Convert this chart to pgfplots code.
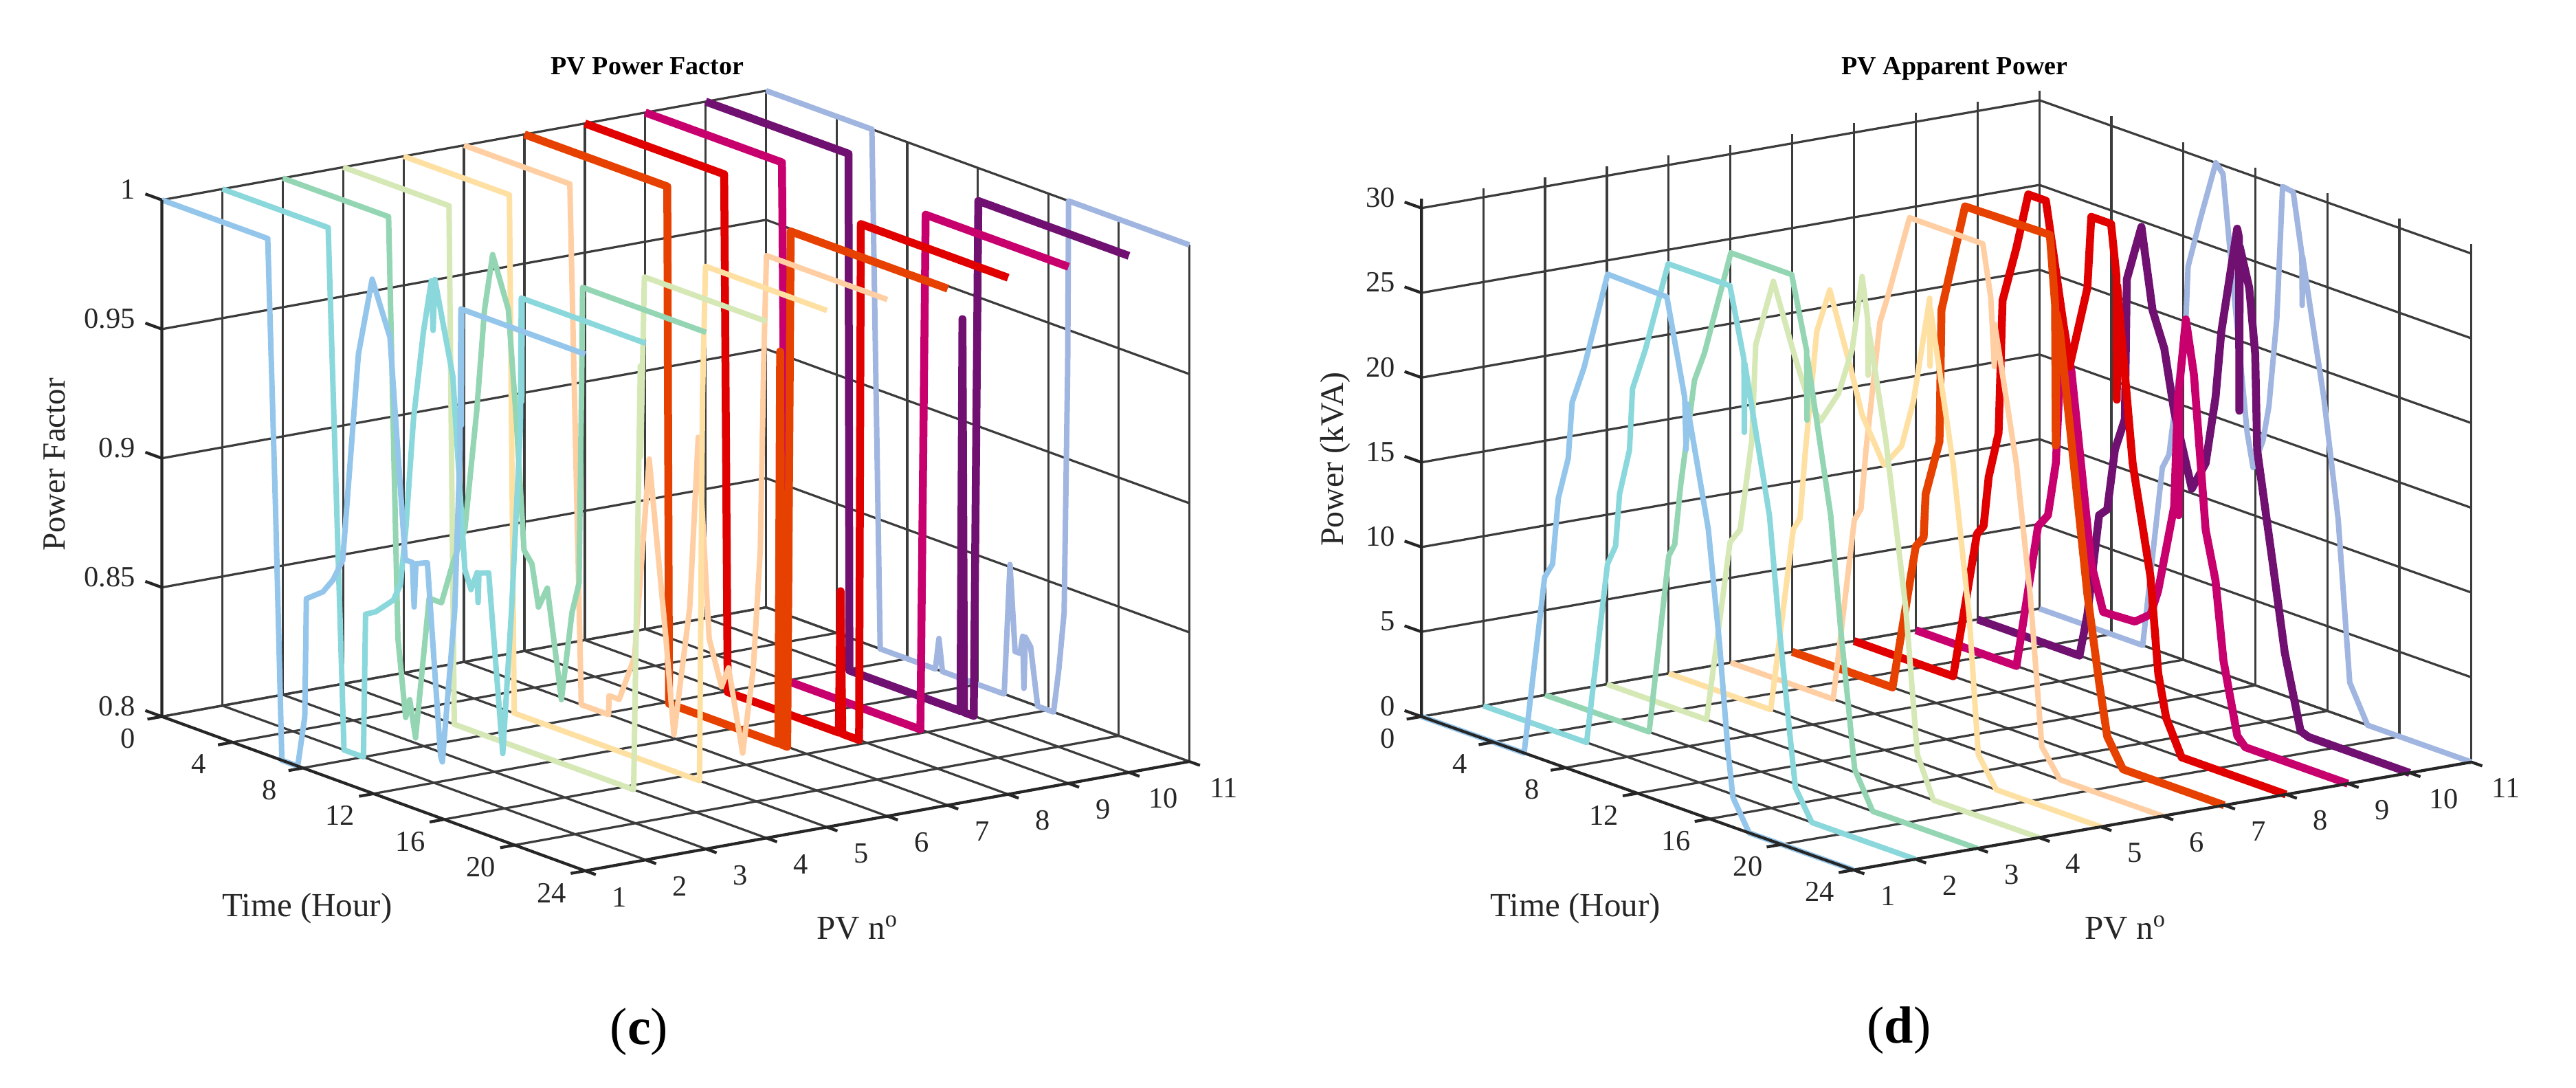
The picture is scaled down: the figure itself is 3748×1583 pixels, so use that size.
\documentclass[border=0pt]{standalone}
\usepackage{fontspec}
\setmainfont{Liberation Serif}
\usepackage{pgfplots}
\pgfplotsset{compat=1.18}

\definecolor{pvA}{HTML}{94C6EB}
\definecolor{pvB}{HTML}{8AD8DC}
\definecolor{pvC}{HTML}{94D6B3}
\definecolor{pvD}{HTML}{D5E8B5}
\definecolor{pvE}{HTML}{FFE0A3}
\definecolor{pvF}{HTML}{FFCFA3}
\definecolor{pvG}{HTML}{E64100}
\definecolor{pvH}{HTML}{E00000}
\definecolor{pvI}{HTML}{C8006E}
\definecolor{pvJ}{HTML}{701070}
\definecolor{pvK}{HTML}{A0B5E0}
\definecolor{gridc}{HTML}{3C3C3C}
\definecolor{textc}{HTML}{262626}

\pgfplotsset{
  pvbox/.style={
    anchor=origin,
    clip=false,
    xmin=0, xmax=24, ymin=1, ymax=11,
    xtick={0,4,...,24}, ytick={1,...,11},
    grid=major,
    grid style={gridc, line width=0.65pt},
    major tick length=0pt,
    axis line style={draw=none},
    tick label style={font=\fontsize{8.5}{10}\selectfont, text=textc},
    xticklabel style={anchor=center, xshift=-9.8pt, yshift=-6.4pt},
    yticklabel style={anchor=center, xshift=10pt, yshift=-7.6pt},
    zticklabel style={anchor=east, xshift=-4.2pt, yshift=3pt},
    /pgf/number format/assume math mode=true,
  },
  thin pv/.style={line width=1.6pt, line join=round, no markers},
  thick pv/.style={line width=2.3pt, line join=round, no markers},
  axis deco/.style={black!85, line width=0.85pt, no markers, unbounded coords=jump},
}

\begin{document}
\begin{tikzpicture}[x=0.2pt,y=0.2pt]
\useasboundingbox (0,0) rectangle (3748,1583);

\begin{axis}[pvbox,
  at={(47.12pt,108.08pt)},
  x={(5.132pt,-1.87pt)}, y={(17.58pt,3.18pt)}, z={(0pt,751.6pt)},
  zmin=0.8, zmax=1,
  ztick={0.8,0.85,0.9,0.95,1},
  zticklabels={0.8,0.85,0.9,0.95,1},
]
\addplot3[thin pv, pvK] table[x=t,y expr=11,z=v] {
t v
0 1
6 1
6.47 .8
9.6 .8
9.8 .8123
10 .8
13.5 .8
13.83 .851
14.12 .818
14.4 .818
14.55 .825
14.62 .805
14.7 .825
15 .822
15.4 .8
16.3 .8
16.6 .8173
16.9 .84
17.1 .935
17.15 1
24 1
};
\addplot3[thick pv, pvJ] table[x=t,y expr=10,z=v] {
t v
0 1
8.1 1
8.15 .8
14.45 .8
14.56 .952
14.65 .8
15.2 .8
15.46 1
24 1
};
\addplot3[thick pv, pvI] table[x=t,y expr=9,z=v] {
t v
0 1
7.75 1
8 .8
15.6 .8
15.9 1
24 1
};
\addplot3[thick pv, pvH] table[x=t,y expr=8,z=v] {
t v
0 1
7.9 1
8.1 .8
14.4 .8
14.5 .855
14.6 .8
15.55 .8
15.65 1
24 1
};
\addplot3[thick pv, pvG] table[x=t,y expr=7,z=v] {
t v
0 1
8.1 1
8.2 .8
14.4 .8
14.5 .952
14.6 .8
14.9 .8
15.1 1
24 1
};
\addplot3[thin pv, pvF] table[x=t,y expr=6,z=v] {
t v
0 1
6 1
6.65 .8
8.2 .8
8.22 .8074
8.8 .8074
9.67 .826
10.5 .9047
11.45 .8375
11.9 .8014
12.8 .8528
13.28 .92
13.9 .8436
14.6 .8267
15 .835
15.8 .804
16.4 .838
16.8 .885
17 .96
17.15 1
24 1
};
\addplot3[thin pv, pvE] table[x=t,y expr=5,z=v] {
t v
0 1
6 1
6.27 .8
16.78 .8
16.95 .95
17.12 1
24 1
};
\addplot3[thin pv, pvD] table[x=t,y expr=4,z=v] {
t v
0 1
6 1
6.3 .8
16.47 .8
16.85 .965
16.87 .93
17.08 1
24 1
};
\addplot3[thin pv, pvC] table[x=t,y expr=3,z=v] {
t v
0 1
6 1
6.53 .838
6.97 .8085
7.2 .816
7.53 .802
8.3 .858
9 .858
9.65 .875
10.33 .89
11 .9374
11.44 .9775
11.9 1
12.79 .981
13.24 .9396
13.68 .89
14.13 .8858
14.5 .87
15 .8786
15.8 .8374
16.4 .8726
16.8 .885
16.95 .965
17 1
24 1
};
\addplot3[thin pv, pvB] table[x=t,y expr=2,z=v] {
t v
0 1
6 1
6.9 .8
8 .8
8.12 .8556
8.7 .858
9.7 .865
10.1 .872
10.4 .894
10.84 .938
11.4 .973
11.85 .994
11.95 .975
12.05 .995
13.07 .96
13.75 .887
14.1 .88
14.45 .8875
14.5 .876
14.55 .8875
15.1 .889
15.9 .821
16.4 .878
16.9 .95
16.95 1
16.98 .96
17 1
24 1
};
\addplot3[thin pv, pvA] table[x=t,y expr=1,z=v] {
t v
0 1
6 1
6.44 .897
6.8 .8
7.7 .8
8.1 .82
8.19 .866
9.13 .871
9.7 .877
10.25 .886
11.14 .968
11.92 .999
12.93 .979
13.8 .895
14.2 .895
14.3 .878
14.4 .895
15.05 .897
15.8 .824
15.9 .822
16.6 .882
16.9 .945
16.95 1
16.98 .955
17 1
24 1
};
% axis lines and ticks
\addplot3[axis deco] coordinates {
(0,1,.8) (24,1,.8) (24,11,.8) (nan,nan,nan)
(0,1,.8) (0,1,1) (nan,nan,nan)
(0,1,.8) (-.94,1,.8) (nan,nan,nan)
(0,1,.85) (-.94,1,.85) (nan,nan,nan)
(0,1,.9) (-.94,1,.9) (nan,nan,nan)
(0,1,.95) (-.94,1,.95) (nan,nan,nan)
(0,1,1) (-.94,1,1) (nan,nan,nan)
(0,1,.8) (0,.76,.8) (nan,nan,nan)
(4,1,.8) (4,.76,.8) (nan,nan,nan)
(8,1,.8) (8,.76,.8) (nan,nan,nan)
(12,1,.8) (12,.76,.8) (nan,nan,nan)
(16,1,.8) (16,.76,.8) (nan,nan,nan)
(20,1,.8) (20,.76,.8) (nan,nan,nan)
(24,1,.8) (24,.76,.8) (nan,nan,nan)
(24,1,.8) (24.6,1,.8) (nan,nan,nan)
(24,2,.8) (24.6,2,.8) (nan,nan,nan)
(24,3,.8) (24.6,3,.8) (nan,nan,nan)
(24,4,.8) (24.6,4,.8) (nan,nan,nan)
(24,5,.8) (24.6,5,.8) (nan,nan,nan)
(24,6,.8) (24.6,6,.8) (nan,nan,nan)
(24,7,.8) (24.6,7,.8) (nan,nan,nan)
(24,8,.8) (24.6,8,.8) (nan,nan,nan)
(24,9,.8) (24.6,9,.8) (nan,nan,nan)
(24,10,.8) (24.6,10,.8) (nan,nan,nan)
(24,11,.8) (24.6,11,.8)
};
\end{axis}

\begin{axis}[pvbox,
  at={(413.64pt,108.08pt)},
  x={(5.238pt,-1.86pt)}, y={(17.98pt,3.14pt)}, z={(0pt,4.932pt)},
  zmin=0, zmax=30.55,
  ztick={0,5,...,30},
]
\addplot3[thin pv, pvK] table[x=t,y expr=11,z=v] {
t v
0 0
5.74 0
6.83 10.9
7.2 11.8
8.14 20.2
8.26 23.3
8.9 26.2
9.8 30
10.2 29.5
10.67 24.2
11.54 14.75
11.87 12.8
12.42 14.6
12.75 16.75
13.19 22.1
13.51 30
14.1 29.9
14.58 26.4
14.6 23.4
14.62 26.3
15.8 18.4
16.6 11.5
17.24 2.15
18.23 0
24 0
};
\addplot3[thick pv, pvJ] table[x=t,y expr=10,z=v] {
t v
0 0
5.66 0
6.1 2.6
6.75 8.7
7.2 9.2
7.63 12.9
8.18 14.9
8.29 23.2
9.1 26.6
9.72 21.9
10.37 19.9
10.92 16.4
11.9 12.2
12.67 14
13.22 18.1
13.54 22.1
14.42 28.5
14.52 28
14.54 17.8
14.56 27.5
15.09 25.25
15.42 21.5
15.53 15.85
16.4 9.45
17.06 4.5
17.94 .18
18.38 0
24 0
};
\addplot3[thick pv, pvI] table[x=t,y expr=9,z=v] {
t v
0 0
5.59 0
6.79 8.7
7.34 9.55
7.78 12.8
8 18
8.22 21
8.65 18.5
9.75 7.6
10.41 5
12.17 5.1
13.04 5.85
13.46 7.4
14.35 12.7
14.57 19.5
14.6 12.3
14.63 19.8
15 24
15.45 20.9
16.1 12
16.65 9.2
17.09 4.66
17.86 .5
18.3 0
24 0
};
\addplot3[thick pv, pvH] table[x=t,y expr=8,z=v] {
t v
0 0
5.51 0
6.83 8.9
7.2 9.5
7.48 12.5
8.03 15.3
8.25 23.2
9.02 26.6
9.68 30
10.66 30
11.97 20.7
12.96 25.7
13.18 30
14.28 30
14.58 27
14.6 19.75
14.62 26.5
15.48 16.3
16.47 10
16.9 4.45
17.34 2
18.2 0
24 0
};
\addplot3[thick pv, pvG] table[x=t,y expr=7,z=v] {
t v
0 0
5.57 0
6.86 8.8
7.3 9.5
7.41 12.1
8.18 15.5
8.29 23.3
9.6 29.9
14.31 30
14.6 26
14.64 17.7
14.68 25.5
14.87 24.5
16.4 9.55
17.05 4.6
17.5 1.6
18.37 0
24 0
};
\addplot3[thin pv, pvF] table[x=t,y expr=6,z=v] {
t v
0 0
5.71 0
6.88 11
7.25 11.8
7.53 15.4
8.3 23.2
8.74 24.9
9.95 30
14.02 30
14.46 27
14.66 23
14.68 25.5
15.88 17.75
16.65 10.3
17.3 1.56
18.3 0
24 0
};
\addplot3[thin pv, pvE] table[x=t,y expr=5,z=v] {
t v
0 0
5.67 0
6.92 11.1
7.3 11.9
7.58 15.8
8.23 23.3
8.95 26
10.09 21.9
10.75 19.3
11.96 16.8
12.94 18.3
13.6 21.2
14.5 27.6
14.52 23.6
14.54 27
15.8 18.35
16.7 9.64
17.2 1.7
18.2 0
24 0
};
\addplot3[thin pv, pvD] table[x=t,y expr=4,z=v] {
t v
0 0
5.54 0
6.84 10.96
7.4 11.9
8.05 17.4
8.27 23.15
9.25 27.26
10.46 23.2
11.23 20.9
11.87 20
12.87 22
13.63 24.9
14.18 29.4
14.49 27
14.51 23.7
14.53 26.5
14.95 23.8
15.5 20.2
16.6 10.8
17.25 2.35
18.14 0
24 0
};
\addplot3[thin pv, pvC] table[x=t,y expr=3,z=v] {
t v
0 0
5.78 0
6.87 10.8
7.2 11.6
7.53 15.2
8.3 21.7
8.85 23.5
10.32 29.98
13.7 29.97
14.53 25.8
14.55 21.7
14.57 25.4
15.87 16.56
16.4 10.3
17.2 2.1
18.2 0
24 0
};
\addplot3[thin pv, pvB] table[x=t,y expr=2,z=v] {
t v
0 0
5.74 0
6.9 10.96
7.35 12.2
7.57 15.35
8.12 18.15
8.29 21.83
9 24.4
10.27 29.95
13.7 29.95
14.48 25.9
14.5 21.6
14.52 25.7
15.9 17.2
16.45 10.7
17.06 4.45
17.34 1.7
18.25 0
24 0
};
\addplot3[thin pv, pvA] table[x=t,y expr=1,z=v] {
t v
0 0
5.7 0
6.84 10.8
7.28 11.74
7.6 15.75
8.15 18.3
8.37 21.7
9.03 24
10.34 30
13.63 29.9
14.62 24.35
14.7 21.3
14.75 24
15.93 17.08
16.56 10.5
17.02 4.45
17.3 1.76
18.2 0
24 0
};
% axis lines and ticks
\addplot3[axis deco] coordinates {
(0,1,0) (24,1,0) (24,11,0) (nan,nan,nan)
(0,1,0) (0,1,30.55) (nan,nan,nan)
(0,1,0) (-.94,1,0) (nan,nan,nan)
(0,1,5) (-.94,1,5) (nan,nan,nan)
(0,1,10) (-.94,1,10) (nan,nan,nan)
(0,1,15) (-.94,1,15) (nan,nan,nan)
(0,1,20) (-.94,1,20) (nan,nan,nan)
(0,1,25) (-.94,1,25) (nan,nan,nan)
(0,1,30) (-.94,1,30) (nan,nan,nan)
(0,1,0) (0,.76,0) (nan,nan,nan)
(4,1,0) (4,.76,0) (nan,nan,nan)
(8,1,0) (8,.76,0) (nan,nan,nan)
(12,1,0) (12,.76,0) (nan,nan,nan)
(16,1,0) (16,.76,0) (nan,nan,nan)
(20,1,0) (20,.76,0) (nan,nan,nan)
(24,1,0) (24,.76,0) (nan,nan,nan)
(24,1,0) (24.6,1,0) (nan,nan,nan)
(24,2,0) (24.6,2,0) (nan,nan,nan)
(24,3,0) (24.6,3,0) (nan,nan,nan)
(24,4,0) (24.6,4,0) (nan,nan,nan)
(24,5,0) (24.6,5,0) (nan,nan,nan)
(24,6,0) (24.6,6,0) (nan,nan,nan)
(24,7,0) (24.6,7,0) (nan,nan,nan)
(24,8,0) (24.6,8,0) (nan,nan,nan)
(24,9,0) (24.6,9,0) (nan,nan,nan)
(24,10,0) (24.6,10,0) (nan,nan,nan)
(24,11,0) (24.6,11,0)
};
\end{axis}

\node[font=\fontsize{7.6}{9}\selectfont\bfseries] at (942,1487) {PV Power Factor};
\node[font=\fontsize{7.6}{9}\selectfont\bfseries] at (2844,1483) {PV Apparent Power};
\node[font=\fontsize{9.4}{11}\selectfont, text=textc, rotate=90] at (79,907) {Power Factor};
\node[font=\fontsize{9.6}{11}\selectfont, text=textc, rotate=90] at (1943,915) {Power (kVA)};
\node[font=\fontsize{9.8}{11}\selectfont, text=textc] at (447,261) {Time (Hour)};
\node[font=\fontsize{9.8}{11}\selectfont, text=textc] at (2292,261) {Time (Hour)};
\node[font=\fontsize{9.8}{11}\selectfont, text=textc] at (1248,233) {PV n$^{\mathrm{o}}$};
\node[font=\fontsize{9.8}{11}\selectfont, text=textc] at (3093,233) {PV n$^{\mathrm{o}}$};
\node[font=\fontsize{15.2}{18}\selectfont] at (930,82) {(\textbf{c})};
\node[font=\fontsize{15.2}{18}\selectfont] at (2763,84) {(\textbf{d})};
\end{tikzpicture}
\end{document}
